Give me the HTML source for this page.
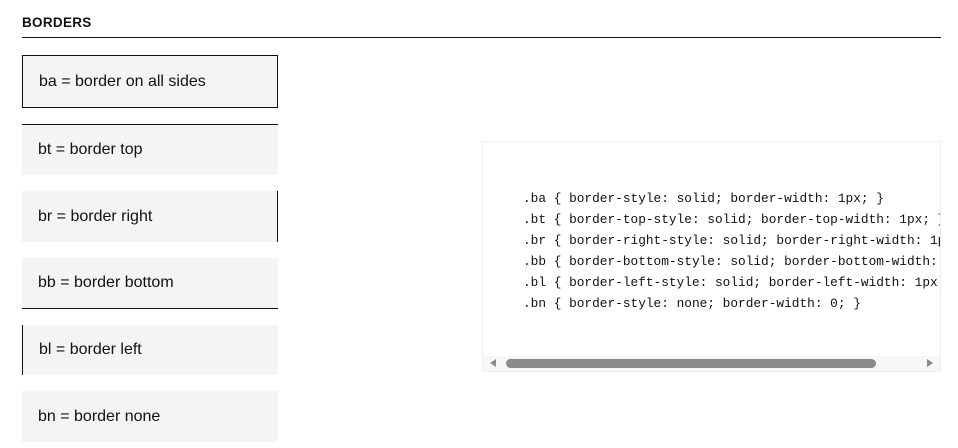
<!DOCTYPE html>
<html><head><meta charset="utf-8"><style>
html,body{margin:0;padding:0;background:#fff;width:958px;height:448px;overflow:hidden;position:relative;font-family:"Liberation Sans",Arial,sans-serif;color:#111;}
.h{position:absolute;left:22px;top:15px;font-size:13.5px;font-weight:bold;letter-spacing:0.3px;}
.rule{position:absolute;left:22px;top:37px;width:919px;height:1px;background:#111;}
.b{position:absolute;left:22px;width:256px;background:#f4f4f4;box-sizing:border-box;font-size:16px;padding-left:16px;display:flex;align-items:center;}
.code{position:absolute;left:482px;top:141px;width:459px;height:231px;box-sizing:border-box;border:1px solid #eee;overflow:hidden;background:#fff;}
.code pre{position:absolute;left:40px;top:46px;margin:0;font-family:"Liberation Mono","DejaVu Sans Mono",monospace;font-size:12.8px;line-height:21px;color:#111;white-space:pre;}
.track{position:absolute;left:0;right:0;top:214px;height:15px;background:#f7f7f7;}
.thumb{position:absolute;left:23px;top:3px;width:370px;height:9px;border-radius:5px;background:#8a8a8a;}
.al{position:absolute;left:7px;top:3px;width:0;height:0;border-top:4px solid transparent;border-bottom:4px solid transparent;border-right:6px solid #8a8a8a;}
.ar{position:absolute;right:7px;top:3px;width:0;height:0;border-top:4px solid transparent;border-bottom:4px solid transparent;border-left:6px solid #8a8a8a;}
</style></head><body>
<div class="h">BORDERS</div>
<div class="rule"></div>
<div class="b" style="top:55px;height:53px;border:1px solid #111;">ba = border on all sides</div>
<div class="b" style="top:124px;height:51px;border-top:1px solid #111;">bt = border top</div>
<div class="b" style="top:191px;height:51px;border-right:1px solid #111;">br = border right</div>
<div class="b" style="top:258px;height:51px;border-bottom:1px solid #111;">bb = border bottom</div>
<div class="b" style="top:325px;height:50px;border-left:1px solid #111;">bl = border left</div>
<div class="b" style="top:391px;height:51px;">bn = border none</div>
<div class="code"><pre>.ba { border-style: solid; border-width: 1px; }
.bt { border-top-style: solid; border-top-width: 1px; }
.br { border-right-style: solid; border-right-width: 1px; }
.bb { border-bottom-style: solid; border-bottom-width: 1px; }
.bl { border-left-style: solid; border-left-width: 1px; }
.bn { border-style: none; border-width: 0; }</pre>
<div class="track"><div class="al"></div><div class="thumb"></div><div class="ar"></div></div>
</div>
</body></html>
